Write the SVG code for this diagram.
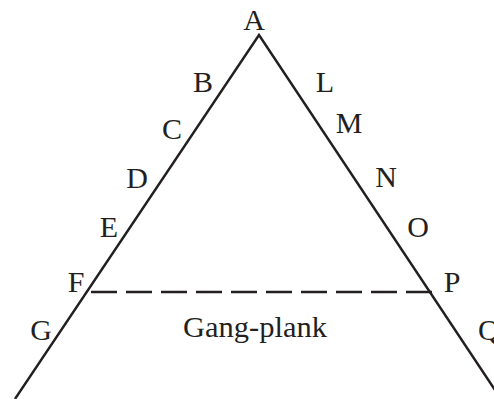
<svg xmlns="http://www.w3.org/2000/svg" width="494" height="399" viewBox="0 0 494 399">
<style>
.l{stroke:#231f20;stroke-width:2.4;fill:none}
.d{stroke:#231f20;stroke-width:2.6;fill:none;stroke-dasharray:26 9}
text{font-family:"Liberation Serif","Times New Roman",serif;font-size:30px;fill:#231f20;text-anchor:middle}
</style>
<rect width="494" height="399" fill="#fff"/>
<g id="connectors">
<path class="l" d="M15,399 L259,35 L501,399"/>
<path class="d" d="M91,292 L432,292"/>
</g>
<g id="labels">
<text x="254" y="30">A</text>
<text x="203" y="92">B</text>
<text x="172" y="139">C</text>
<text x="137" y="188">D</text>
<text x="109" y="237">E</text>
<text x="76" y="292">F</text>
<text x="41" y="340">G</text>
<text x="325" y="92">L</text>
<text x="349" y="133">M</text>
<text x="386" y="187">N</text>
<text x="418" y="237">O</text>
<text x="452" y="292">P</text>
<text x="478" y="340" style="text-anchor:start">Q</text>
<text x="255" y="337" textLength="144" lengthAdjust="spacingAndGlyphs">Gang-plank</text>
</g>
</svg>
